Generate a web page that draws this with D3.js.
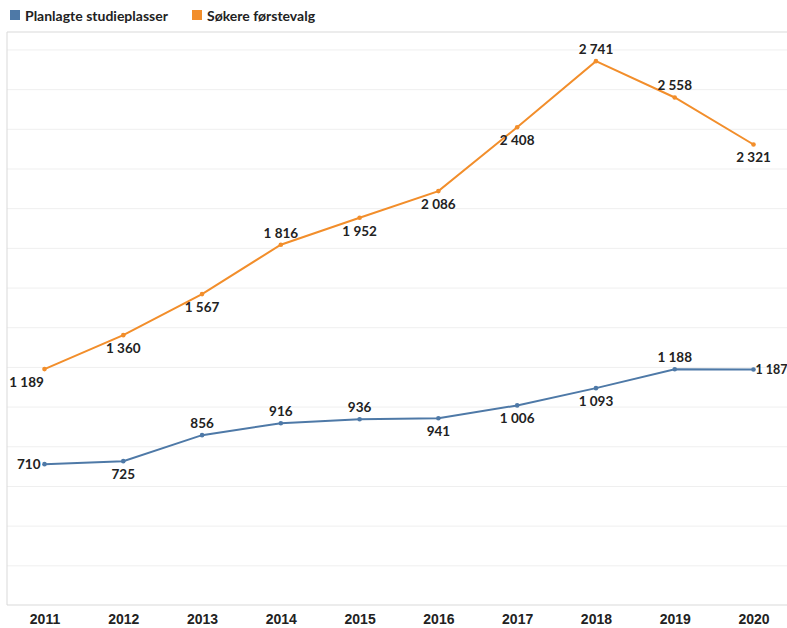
<!DOCTYPE html>
<html>
<head>
<meta charset="utf-8">
<script src="https://cdn.jsdelivr.net/npm/d3@7"></script>
<style>
	body { margin: 0; background: #fff; }
	svg { display: block; font-family: Lato, "Open Sans", sans-serif; }
	.grid line { stroke: #efefef; }
	.grid .domain { display: none; }
	.lbl { font-size: 13.5px; font-weight: bold; fill: #222; }
</style>
</head>
<body>
<svg id="chart" width="787" height="628"></svg>
<script>
// données
const years = ["2011", "2012", "2013", "2014", "2015", "2016", "2017", "2018", "2019", "2020"];
const planlagte = [710, 725, 856, 916, 936, 941, 1006, 1093, 1188, 1187];
const sokere = [1189, 1360, 1567, 1816, 1952, 2086, 2408, 2741, 2558, 2321];
const seriesNames = ["Planlagte studieplasser", "Søkere førstevalg"];

// placement des étiquettes (a = au-dessus, b = en dessous, l = gauche, r = droite)
const planlagtePlacement = ["l", "b", "a", "a", "a", "b", "b", "b", "a", "r"];
const sokerePlacement = ["bl", "b", "b", "a", "b", "b", "b", "a", "a", "b"];

const colors = ["#4e79a7", "#f28e2b"];
const fmt = v => d3.format(",")(v).replace(/,/g, " ");

const dimensions = {
	width: 787,
	height: 628,
	plot: { left: 7, top: 32, bottom: 605 }
};

const svg = d3.select("#chart");

const x = d3.scalePoint()
	.domain(years)
	.range([44.5, 753.5]);

const y = d3.scaleLinear()
	.domain([0, 2888])
	.range([dimensions.plot.bottom, dimensions.plot.top]);

// grille
svg.append("g")
	.attr("class", "grid")
	.attr("transform", "translate(" + dimensions.plot.left + ",0)")
	.call(d3.axisLeft(y)
		.tickValues(d3.range(200, 2801, 200))
		.tickSize(-(dimensions.width - dimensions.plot.left))
		.tickFormat(""));

// cadre
svg.append("path")
	.attr("d", `M${dimensions.width},${dimensions.plot.top}H${dimensions.plot.left}V${dimensions.plot.bottom}H${dimensions.width}`)
	.attr("fill", "none")
	.attr("stroke", "#d9d9d9");

// axe x
const xAxis = svg.append("g")
	.attr("transform", "translate(0," + dimensions.plot.bottom + ")")
	.call(d3.axisBottom(x).tickSize(0).tickPadding(9));
xAxis.select(".domain").remove();
xAxis.selectAll("text")
	.attr("class", "lbl")
	.attr("font-family", null)
	.attr("font-size", null)
	.style("font-size", "14px")
	.attr("fill", "#222");

const line = d3.line()
	.x((d, i) => x(years[i]))
	.y(d => y(d));

function drawSeries(values, placement, color) {
	const g = svg.append("g");
	g.append("path")
		.datum(values)
		.attr("fill", "none")
		.attr("stroke", color)
		.attr("stroke-width", 2)
		.attr("d", line);
	g.selectAll("circle")
		.data(values)
		.join("circle")
		.attr("cx", (d, i) => x(years[i]))
		.attr("cy", d => y(d))
		.attr("r", 2.3)
		.attr("fill", color);
	g.selectAll("text")
		.data(values)
		.join("text")
		.attr("class", "lbl")
		.attr("dominant-baseline", "central")
		.attr("text-anchor", (d, i) => placement[i] === "l" ? "end" : placement[i] === "r" ? "start" : "middle")
		.style("font-size", (d, i) => placement[i] === "r" ? "12.5px" : null)
		.attr("x", (d, i) => {
			const p = placement[i], cx = x(years[i]);
			if (p === "l") return cx - 4;
			if (p === "r") return cx + 2;
			if (p === "bl") return cx - 18;
			return cx;
		})
		.attr("y", (d, i) => {
			const p = placement[i], cy = y(d);
			if (p === "a") return cy - 12;
			if (p === "b" || p === "bl") return cy + 13;
			return cy;
		})
		.text(fmt);
}

drawSeries(planlagte, planlagtePlacement, colors[0]);
drawSeries(sokere, sokerePlacement, colors[1]);

// légende
const legendX = [10, 192];
const legend = svg.append("g")
	.selectAll("g")
	.data(seriesNames)
	.join("g")
	.attr("transform", (d, i) => "translate(" + legendX[i] + ",10)");
legend.append("rect")
	.attr("width", 10)
	.attr("height", 10)
	.attr("fill", (d, i) => colors[i]);
legend.append("text")
	.attr("class", "lbl")
	.attr("x", 15)
	.attr("y", 5)
	.attr("dominant-baseline", "central")
	.style("font-size", "14px")
	.attr("fill", "#333")
	.text(d => d);
</script>
</body>
</html>
